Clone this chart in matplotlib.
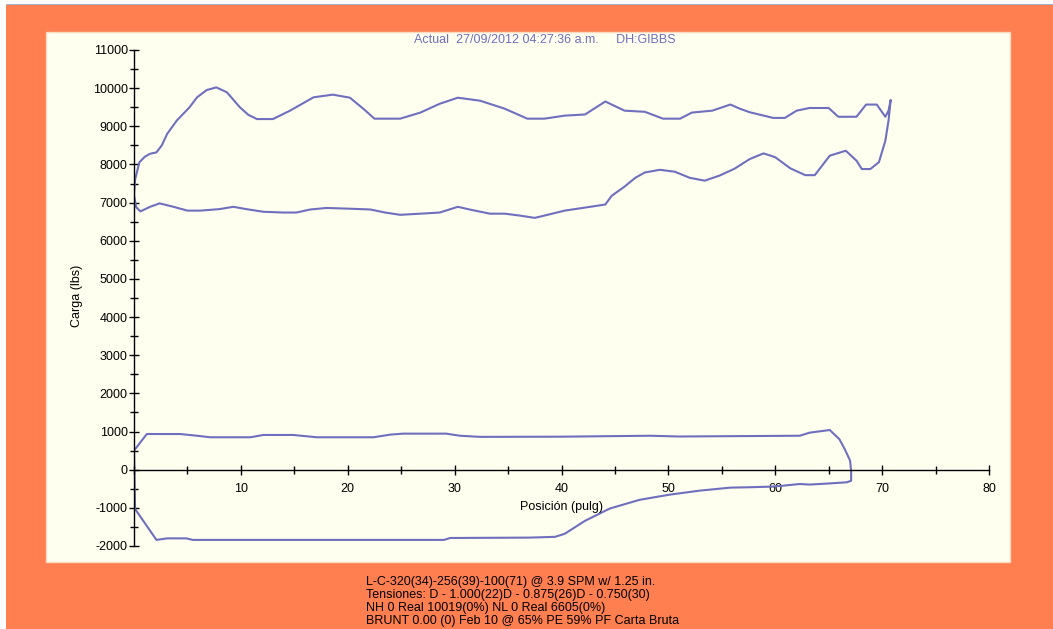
import numpy as np
import matplotlib
matplotlib.use("Agg")
import matplotlib.pyplot as plt
from matplotlib.patches import Rectangle
from matplotlib.ticker import MultipleLocator

# carta de superficie - lazo superior (carga en lbs vs posicion en pulg)
upper_pos = [0, 0.1, 0.5, 1.0, 1.5, 2.1, 2.6, 3.1, 4.0, 5.2, 5.9, 6.8, 7.7, 8.7, 9.9, 10.7, 11.5, 13.0,
             14.6, 16.8, 18.6, 20.2, 21.5, 22.5, 24.9, 26.8, 28.6, 30.3, 32.4, 34.7, 36.8, 38.4, 40.3,
             42.2, 44.1, 45.9, 47.8, 49.5, 51.1, 52.2, 54.1, 55.8, 56.7, 57.6, 59.8, 60.9, 62.0, 63.2,
             65.0, 65.9, 67.6, 68.5, 69.5, 70.3, 70.6, 70.8,
             70.6, 70.3, 69.7, 68.9, 68.1, 67.6, 66.6, 65.1, 63.7, 62.8, 61.4, 60.0, 58.9, 57.6, 56.2,
             54.8, 53.4, 52.0, 50.6, 49.2, 47.8, 46.9, 45.9, 44.7, 44.1, 42.2, 40.3, 38.7, 37.5, 36.1,
             34.7, 33.3, 31.4, 30.3, 28.6, 26.8, 24.9, 23.5, 22.1, 20.2, 18.0, 16.5, 15.2, 14.0, 12.1,
             10.5, 9.3, 8.0, 6.2, 5.0, 3.7, 2.4, 1.5, 0.6, 0.2, 0]
upper_load = [7200, 7600, 8055, 8200, 8280, 8317, 8500, 8800, 9150, 9500, 9760, 9950, 10020, 9890, 9500,
              9300, 9190, 9190, 9410, 9760, 9830, 9750, 9450, 9200, 9200, 9360, 9590, 9750, 9670, 9460,
              9200, 9200, 9280, 9310, 9650, 9410, 9380, 9200, 9200, 9360, 9410, 9570, 9460, 9370, 9220,
              9220, 9410, 9480, 9480, 9250, 9250, 9570, 9570, 9250, 9410, 9690,
              9150, 8620, 8060, 7880, 7880, 8100, 8360, 8230, 7720, 7720, 7900, 8190, 8290, 8140, 7890,
              7710, 7575, 7650, 7810, 7860, 7790, 7650, 7420, 7180, 6950, 6870, 6790, 6680, 6600, 6660,
              6710, 6710, 6820, 6890, 6740, 6710, 6680, 6740, 6820, 6840, 6860, 6820, 6740, 6740, 6760,
              6830, 6890, 6830, 6790, 6790, 6890, 6980, 6890, 6770, 6880, 7200]

# carta de fondo - lazo inferior
lower_pos = [0, 1.2, 4.3, 5.9, 7.1, 10.9, 12.1, 14.9, 17.1, 22.4, 24.0, 25.2, 29.2, 30.5, 32.4, 39.9,
             48.3, 51.0, 62.3, 63.2, 65.1, 66.0, 66.5, 67.0, 67.1, 67.1, 66.7, 65.1, 63.2, 62.3, 60.7,
             59.5, 57.6, 55.8, 52.9, 50.1, 47.3, 44.5, 42.2, 40.3, 39.4, 37.0, 29.6, 29.0, 5.5, 4.9,
             3.1, 2.1, 0.1, 0]
lower_load = [500, 935, 935, 890, 850, 850, 910, 910, 850, 850, 920, 945, 945, 890, 860, 865,
              890, 870, 890, 970, 1040, 800, 540, 240, -30, -290, -330, -360, -390, -375, -420,
              -445, -460, -470, -550, -655, -790, -1020, -1340, -1680, -1760, -1780, -1790, -1840, -1840, -1800,
              -1800, -1840, -1030, 500]

title_txt = "Actual  27/09/2012 04:27:36 a.m.     DH:GIBBS"
info_lines = ["L-C-320(34)-256(39)-100(71) @ 3.9 SPM w/ 1.25 in.",
              "Tensiones: D - 1.000(22)D - 0.875(26)D - 0.750(30)",
              "NH 0 Real 10019(0%) NL 0 Real 6605(0%)",
              "BRUNT 0.00 (0) Feb 10 @ 65% PE 59% PF Carta Bruta"]

W, H = 1053, 629
naranja = "#FF7F50"
crema = "#FFFFF0"
azul = "#6F6FBE"

plt.rcParams['font.family'] = ['Liberation Sans', 'DejaVu Sans']
plt.rcParams['axes.unicode_minus'] = False

fig = plt.figure(figsize=(W / 100, H / 100), dpi=100)
fig.patch.set_facecolor("white")
# fondo naranja y panel crema
fig.patches.append(Rectangle((6 / W, 0), 1 - 6 / W, 1 - 5 / H, transform=fig.transFigure,
                             facecolor=naranja, edgecolor="none", zorder=-3))
fig.patches.append(Rectangle((6 / W, 1 - 5 / H), 1 - 6 / W, 1.5 / H, transform=fig.transFigure,
                             facecolor="#A8B0C8", edgecolor="none", zorder=-3))
fig.patches.append(Rectangle((46 / W, 1 - 562 / H), (1010 - 46) / W, (562 - 32) / H,
                             transform=fig.transFigure, facecolor=crema, edgecolor="#FFD8C0",
                             linewidth=1, zorder=-2))

ax = fig.add_axes([134 / W, 1 - 546 / H, (989 - 134) / W, (546 - 50) / H])
ax.set_facecolor("none")
ax.plot(upper_pos, upper_load, color=azul, lw=1.5)
ax.plot(lower_pos, lower_load, color=azul, lw=1.5)

ax.set_xlim(0, 80)
ax.set_ylim(-2000, 11000)
ax.spines['top'].set_visible(False)
ax.spines['right'].set_visible(False)
ax.spines['bottom'].set_position(('data', 0))
ax.spines['left'].set_linewidth(1)
ax.spines['bottom'].set_linewidth(1)

ax.set_xticks(np.arange(10, 81, 10))
ax.xaxis.set_minor_locator(MultipleLocator(5))
ax.set_yticks(np.arange(-2000, 11001, 1000))
ax.yaxis.set_minor_locator(MultipleLocator(500))
ax.tick_params(axis='both', which='major', direction='inout', length=7, width=1, labelsize=9, colors='black')
ax.tick_params(axis='both', which='minor', direction='inout', length=6, width=1)
ax.tick_params(axis='x', pad=6)
ax.tick_params(axis='y', pad=1)

ax.text(0.5, (546 - 507) / 496, "Posición (pulg)", transform=ax.transAxes,
        ha='center', va='center', fontsize=9)
fig.text(77 / W, 1 - 296 / H, "Carga (lbs)", rotation=90, ha='center', va='center', fontsize=9)
fig.text(545 / W, 1 - 40 / H, title_txt, ha='center', va='center', fontsize=9, color=azul)

for i, line in enumerate(info_lines):
    fig.text(366 / W, 1 - (582 + 13 * i) / H, line, ha='left', va='center', fontsize=9, color='black')

fig.savefig("out.png", dpi=100)
